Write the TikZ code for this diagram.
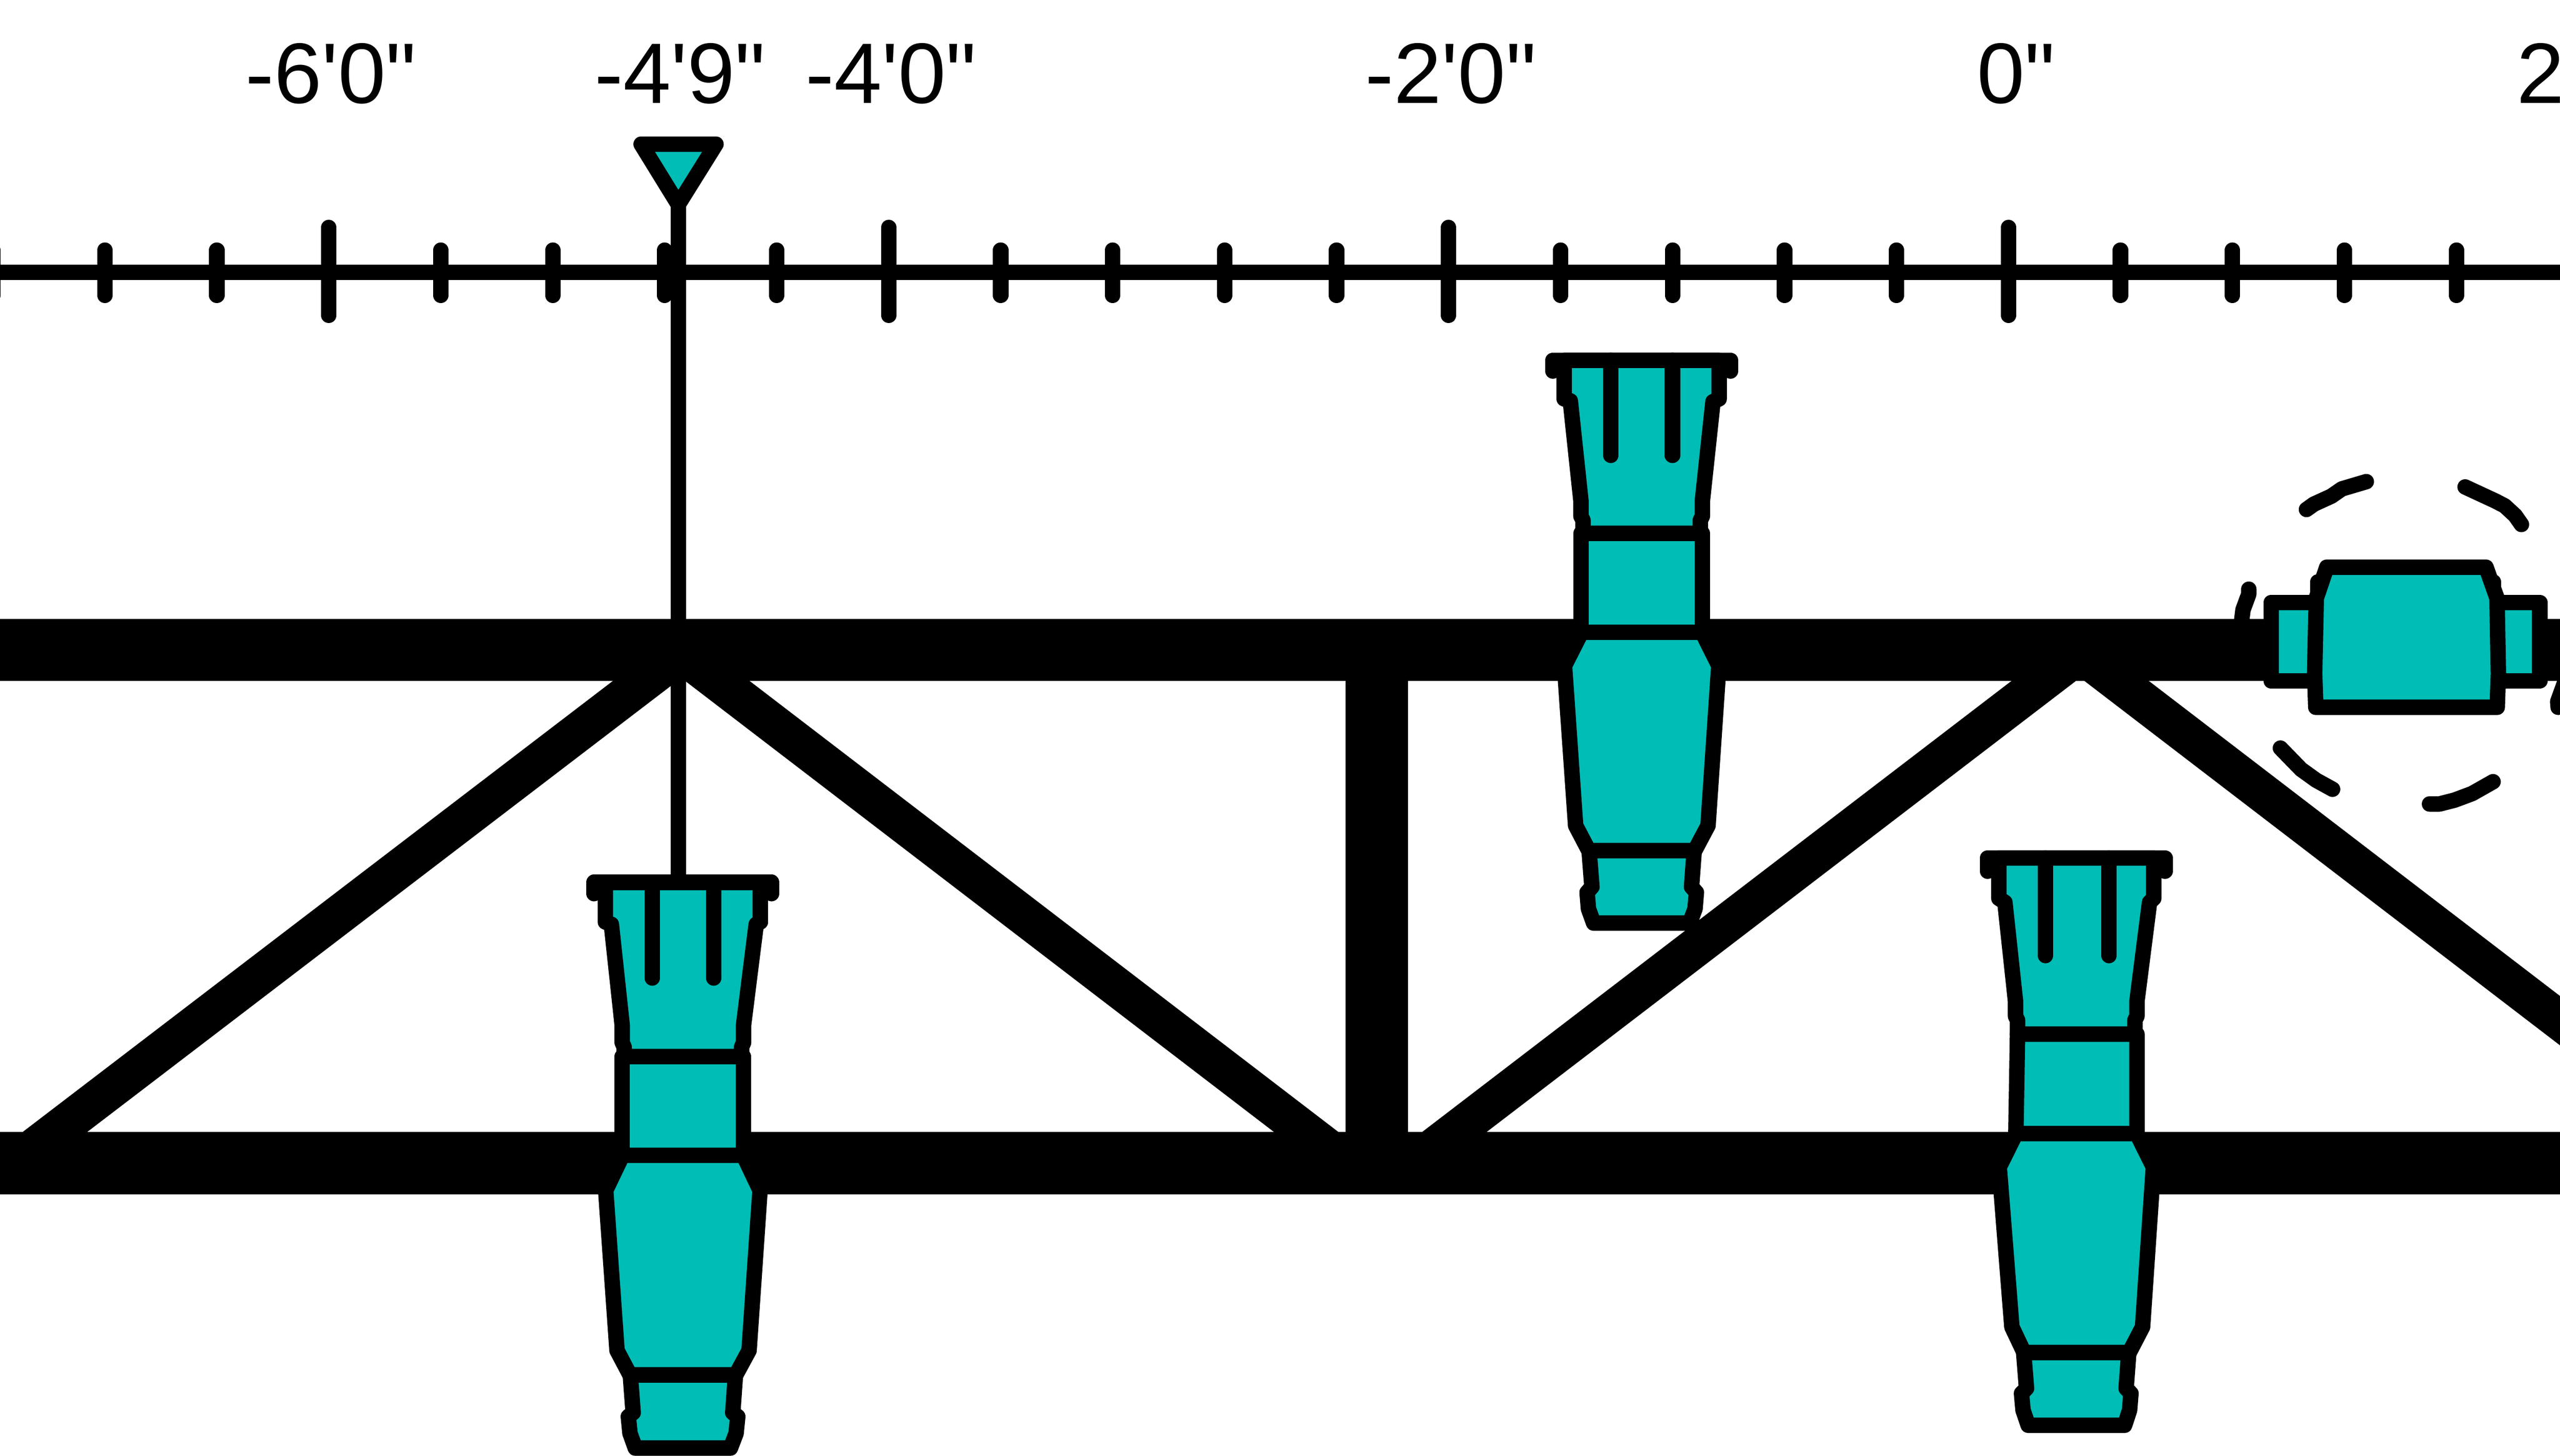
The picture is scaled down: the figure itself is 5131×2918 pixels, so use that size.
\documentclass[tikz,border=0pt]{standalone}
\usepackage{fontspec}
\newfontfamily\labfont{Liberation Sans}
\definecolor{nozteal}{RGB}{0,189,182}
\tikzset{
  chordbar/.style={line width=124.5pt,line cap=butt,black},
  diagbar/.style={line width=78.5pt,line cap=butt,black},
  rulerline/.style={line width=31pt,line cap=butt,black},
  fineline/.style={line width=31pt,line cap=round,line join=round,black},
  nozpart/.style={fineline,fill=nozteal},
  ticklab/.style={inner sep=0pt,outer sep=0pt,font=\labfont\fontsize{172}{172}\selectfont,text=black},
}
\begin{document}
\begin{tikzpicture}[x=1pt,y=-1pt]
\useasboundingbox (0,0) rectangle (5131,2918);
\clip (0,0) rectangle (5131,2918);
\fill[white] (0,0) rectangle (5131,2918);

% ---- truss ----
\coordinate (topL) at (-20,1303);
\coordinate (topR) at (5151,1303);
\coordinate (botL) at (-20,2331.5);
\coordinate (botR) at (5151,2331.5);
\coordinate (postT) at (2759.5,1241);
\coordinate (postB) at (2759.5,2394);
\coordinate (dA0) at (26.4,2333);
\coordinate (dA1) at (1374,1303);
\coordinate (dB0) at (1357,1303);
\coordinate (dB1) at (2701.5,2333);
\coordinate (dC0) at (2831.4,2333);
\coordinate (dC1) at (4177,1303);
\coordinate (dD0) at (4161.5,1303);
\coordinate (dD1) at (5300,2175.4);
\draw[chordbar] (topL) -- (topR);
\draw[chordbar] (botL) -- (botR);
\draw[chordbar] (postT) -- (postB);
\draw[diagbar] (dA0) -- (dA1);
\draw[diagbar] (dB0) -- (dB1);
\draw[diagbar] (dC0) -- (dC1);
\draw[diagbar] (dD0) -- (dD1);

% ---- ruler ----
\coordinate (rulL) at (-20,546);
\coordinate (rulR) at (5151,546);
\draw[rulerline] (rulL) -- (rulR);
\foreach \m in {-1,0,1,2,3,4}{
  \pgfmathsetmacro{\mx}{659+1122.2*\m}
  \draw[fineline] (\mx,456) -- (\mx,632);
  \foreach \j in {1,2,3,4}{
    \pgfmathsetmacro{\tx}{\mx+224.44*\j}
    \draw[fineline] (\tx,501.5) -- (\tx,592);
  }
}

% ---- labels ----
\node[ticklab,anchor=base] (lab60) at (663,206.5) {-6'0"};
\node[ticklab,anchor=base] (lab49) at (1363,206.5) {-4'9"};
\node[ticklab,anchor=base] (lab40) at (1786,206.5) {-4'0"};
\node[ticklab,anchor=base] (lab20) at (2908,206.5) {-2'0"};
\node[ticklab,anchor=base] (lab0) at (4041,206.5) {0"};
\node[ticklab,anchor=base west] (labp2) at (5044,206.5) {2'0"};

% ---- water-level marker and its drop line ----
\coordinate (markTip) at (1359.5,410);
\coordinate (dropEnd) at (1359.5,1775);
\draw[line width=31pt,line cap=butt,black] (markTip) -- (dropEnd);
\draw[nozpart] (1285,289) -- (1435,289) -- (markTip) -- cycle;

% ---- nozzle A ----
\begin{scope}[shift={(1100,1700)},x=0.33333pt,y=-0.7794pt]
  \draw[nozpart] (340,88) -- (340,190) -- (376,196) -- (441,455) -- (441,500) -- (453,512) -- (453,536)
     -- (1159,536) -- (1159,512) -- (1171,500) -- (1171,455) -- (1247,196) -- (1272,190) -- (1272,88) -- cycle;
  \draw[nozpart] (441,536) rectangle (1171,790);
  \draw[nozpart] (443,790) -- (342,880) -- (410,1292) -- (488,1355) -- (1124,1355) -- (1204,1292) -- (1270,880) -- (1170,790) -- cycle;
  \draw[nozpart] (490,1355) -- (507,1452) -- (478,1462) -- (488,1505) -- (520,1543) -- (1092,1543) -- (1126,1505) -- (1136,1462) -- (1106,1452) -- (1122,1355) -- cycle;
  \draw[fineline] (272,117) -- (272,88) -- (1339,88) -- (1339,117);
  \draw[fineline] (621,88) -- (621,334);
  \draw[fineline] (991,88) -- (991,334);
\end{scope}

% ---- nozzle B ----
\begin{scope}[shift={(3050,660)},x=0.33333pt,y=-0.7972pt]
  \draw[nozpart] (255,78) -- (255,175) -- (292,180) -- (356,432) -- (356,470) -- (368,480) -- (368,513)
     -- (1074,513) -- (1074,480) -- (1086,470) -- (1086,432) -- (1150,182) -- (1187,175) -- (1187,78) -- cycle;
  \draw[nozpart] (356,513) rectangle (1086,762);
  \draw[nozpart] (359,762) -- (257,846) -- (324,1248) -- (403,1311) -- (1040,1311) -- (1120,1248) -- (1185,846) -- (1085,762) -- cycle;
  \draw[nozpart] (405,1311) -- (422,1402) -- (393,1416) -- (401,1457) -- (432,1493) -- (1010,1493) -- (1042,1457) -- (1050,1416) -- (1021,1402) -- (1037,1311) -- cycle;
  \draw[fineline] (187,105) -- (187,78) -- (1255,78) -- (1255,105);
  \draw[fineline] (536,78) -- (536,317);
  \draw[fineline] (906,78) -- (906,317);
\end{scope}

% ---- nozzle C ----
\begin{scope}[shift={(3950,1680)},x=0.33333pt,y=-0.7794pt]
  \draw[nozpart] (169,51) -- (169,155) -- (205,165) -- (269,420) -- (269,458) -- (281,468) -- (281,504)
     -- (987,504) -- (987,468) -- (999,458) -- (999,420) -- (1075,165) -- (1100,155) -- (1100,51) -- cycle;
  \draw[nozpart] (281,504) -- (999,504) -- (999,760) -- (271,760) -- cycle;
  \draw[nozpart] (271,760) -- (171,846) -- (247,1257) -- (320,1323) -- (953,1323) -- (1033,1257) -- (1098,846) -- (998,760) -- cycle;
  \draw[nozpart] (318,1323) -- (335,1415) -- (305,1428) -- (314,1471) -- (345,1510) -- (925,1510) -- (955,1471) -- (963,1428) -- (934,1415) -- (950,1323) -- cycle;
  \draw[fineline] (101,85) -- (101,51) -- (1168,51) -- (1168,85);
  \draw[fineline] (449,51) -- (449,302);
  \draw[fineline] (831,51) -- (831,302);
\end{scope}

% ---- nozzle D, seen from above, with its spray ----
\begin{scope}[shift={(4400,900)},x=0.4662pt,y=-0.4847pt]
  \draw[fineline] (230,580) -- (230,600) -- (205,665) -- (198,720);
  \draw[fineline] (1560,1068) -- (1558,1045) -- (1590,960);
  \draw[nozpart] (326,635) rectangle (540,959);
  \draw[nozpart] (1270,635) rectangle (1481,959);
  \draw[fineline] (526,550) -- (526,610);
  \draw[fineline] (1282,550) -- (1282,610);
  \draw[nozpart] (565,489) -- (1250,489) -- (1297,617) -- (1303,930) -- (1298,1068) -- (518,1068) -- (513,930) -- (520,617) -- cycle;
  \draw[fineline] (478,250) -- (510,228) -- (585,195) -- (630,165) -- (735,135);
  \draw[fineline] (1160,157) -- (1290,215) -- (1330,235) -- (1375,275) -- (1402,312);
  \draw[fineline] (366,1237) -- (455,1325) -- (520,1370) -- (590,1407);
  \draw[fineline] (1007,1468) -- (1050,1468) -- (1115,1452) -- (1190,1425) -- (1280,1376);
\end{scope}
\end{tikzpicture}
\end{document}
